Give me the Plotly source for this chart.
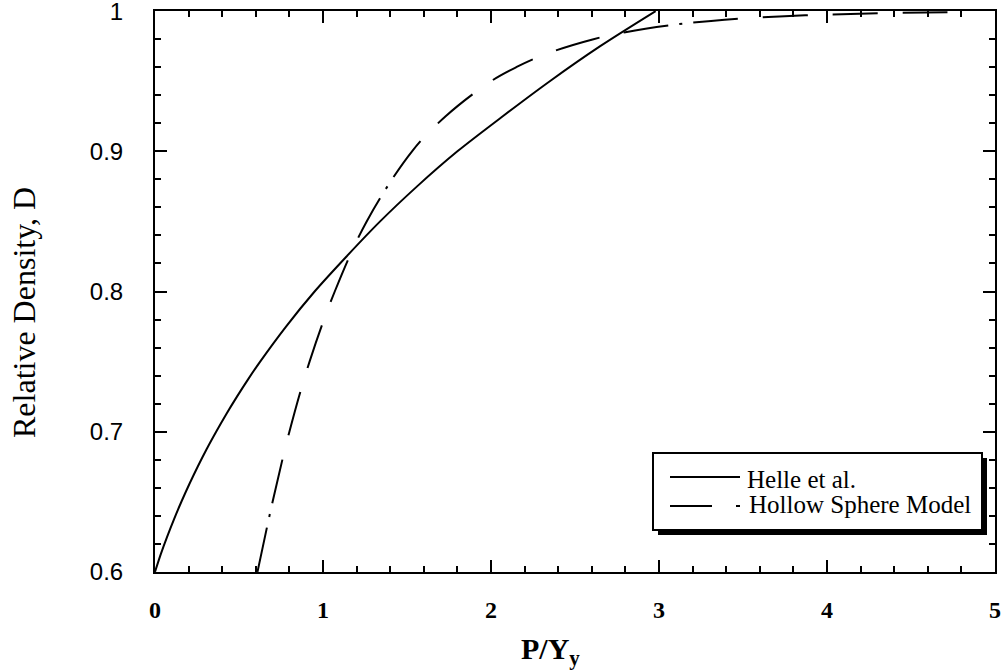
import plotly.graph_objects as go

# Helle et al. curve
helle_x = [0.0, 0.034, 0.072, 0.113, 0.157, 0.204, 0.254, 0.307, 0.364, 0.424, 0.488, 0.555, 0.626, 0.78, 0.95, 1.14, 1.34, 1.56, 1.80, 2.07, 2.35, 2.65, 2.98]
helle_d = [0.600, 0.6125, 0.625, 0.6375, 0.650, 0.6625, 0.675, 0.6875, 0.700, 0.7125, 0.725, 0.7375, 0.750, 0.775, 0.800, 0.825, 0.850, 0.875, 0.900, 0.925, 0.950, 0.975, 1.000]

# Hollow Sphere Model curve
hs_x = [0.61, 0.70, 0.80, 0.92, 1.07, 1.26, 1.53, 1.73, 2.00, 2.15, 2.34, 2.61, 2.80, 3.07, 3.31, 3.53, 3.87, 4.14, 4.45, 4.75]
hs_d = [0.600, 0.650, 0.700, 0.750, 0.800, 0.850, 0.900, 0.925, 0.950, 0.960, 0.970, 0.980, 0.985, 0.990, 0.993, 0.995, 0.997, 0.998, 0.9988, 0.9992]

x_ticks = [0, 1, 2, 3, 4, 5]
x_tick_labels = ["<b>0</b>", "<b>1</b>", "<b>2</b>", "<b>3</b>", "<b>4</b>", "<b>5</b>"]
y_ticks = [0.6, 0.7, 0.8, 0.9, 1.0]
y_tick_labels = ["0.6", "0.7", "0.8", "0.9", "1"]

W, H = 1004, 670
PL, PR, PT, PB = 155, 995, 11, 572  # plot area in window pixels
L, T = PL, PT
R, B = W - PR, H - PB
PW, PH = PR - PL, PB - PT


def px(x):
    return (x - PL) / PW


def py(y):
    return (PB - y) / PH


fig = go.Figure()
fig.add_trace(go.Scatter(x=helle_x, y=helle_d, mode="lines", name="Helle et al.",
                         line=dict(color="black", width=2, shape="spline", smoothing=0.8), showlegend=False))
fig.add_trace(go.Scatter(x=hs_x, y=hs_d, mode="lines", name="Hollow Sphere Model",
                         line=dict(color="black", width=2, shape="spline",
                                   dash="45px,11px,3px,11px,45px,25px,45px,25px,45px,25px,45px,25px"),
                         showlegend=False))

serif = "Liberation Serif"

shapes = []
# legend shadow and box
shapes.append(dict(type="rect", xref="paper", yref="paper", x0=px(658), x1=px(987), y0=py(535), y1=py(458),
                   fillcolor="black", line=dict(width=0), layer="above"))
shapes.append(dict(type="rect", xref="paper", yref="paper", x0=px(653), x1=px(982), y0=py(530), y1=py(453),
                   fillcolor="white", line=dict(color="black", width=2), layer="above"))
# legend samples
shapes.append(dict(type="line", xref="paper", yref="paper", x0=px(670), x1=px(740), y0=py(477), y1=py(477),
                   line=dict(color="black", width=2), layer="above"))
shapes.append(dict(type="line", xref="paper", yref="paper", x0=px(670), x1=px(712), y0=py(506), y1=py(506),
                   line=dict(color="black", width=2), layer="above"))
shapes.append(dict(type="line", xref="paper", yref="paper", x0=px(736), x1=px(740), y0=py(506), y1=py(506),
                   line=dict(color="black", width=2), layer="above"))

annotations = [
    dict(text="Helle et al.", xref="paper", yref="paper", x=px(745), y=py(479), xanchor="left", yanchor="middle",
         showarrow=False, font=dict(family=serif, size=25, color="black")),
    dict(text="Hollow Sphere Model", xref="paper", yref="paper", x=px(747), y=py(504), xanchor="left",
         yanchor="middle", showarrow=False, font=dict(family=serif, size=25, color="black")),
    dict(text="<b>P/Y<sub>y</sub></b>", xref="paper", yref="paper", x=px(550), y=py(651), xanchor="center",
         yanchor="middle", showarrow=False, font=dict(family=serif, size=30, color="black")),
    dict(text="Relative Density, D", xref="paper", yref="paper", x=px(24), y=py(313), xanchor="center",
         yanchor="middle", textangle=-90, showarrow=False, font=dict(family=serif, size=32, color="black")),
]

fig.update_layout(
    width=W, height=H,
    margin=dict(l=L, r=R, t=T, b=B, pad=0, autoexpand=False),
    paper_bgcolor="white", plot_bgcolor="white",
    shapes=shapes, annotations=annotations,
    showlegend=False,
)
fig.update_xaxes(range=[0, 5], tickvals=x_ticks, ticktext=x_tick_labels,
                 showgrid=False, zeroline=False, automargin=False,
                 showline=True, linecolor="black", linewidth=2, mirror="ticks",
                 ticks="inside", ticklen=12, tickwidth=2, tickcolor="black",
                 minor=dict(dtick=0.2, ticks="inside", ticklen=6, tickwidth=2, tickcolor="black", showgrid=False),
                 tickfont=dict(family=serif, size=24, color="black"), ticklabelstandoff=15,
                 ticklabeloverflow="allow")
fig.update_yaxes(range=[0.5999, 1.0001], tickvals=y_ticks, ticktext=y_tick_labels,
                 showgrid=False, zeroline=False, automargin=False,
                 showline=True, linecolor="black", linewidth=2, mirror="ticks",
                 ticks="inside", ticklen=12, tickwidth=2, tickcolor="black",
                 minor=dict(dtick=0.02, ticks="inside", ticklen=6, tickwidth=2, tickcolor="black", showgrid=False),
                 tickfont=dict(family="Liberation Sans", size=24, color="black"), ticklabelstandoff=25,
                 ticklabeloverflow="allow")

fig.write_html("out.html", config={"displayModeBar": False},
               post_script="document.body.style.margin='0';document.body.style.padding='0';")
